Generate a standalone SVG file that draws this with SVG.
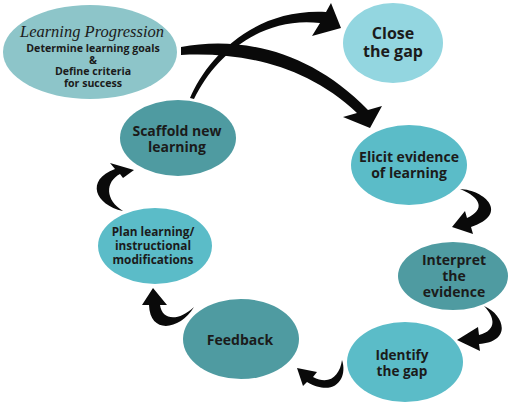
<svg xmlns="http://www.w3.org/2000/svg" width="513" height="406" viewBox="0 0 513 406">
<style>
.t{font-family:"Open Sans",Lato,"Liberation Sans",sans-serif;font-weight:bold;fill:#1b1b1b;text-anchor:middle}
.lp{font-family:"Liberation Serif","DejaVu Serif",serif;font-style:italic;font-size:16.5px;fill:#1b1b1b;text-anchor:middle}
.light{fill:#8dc5c9}.pale{fill:#93d6e0}.mid{fill:#5bbcc8}.dark{fill:#4f9ba1}
.ar{fill:#0a0a0a}
</style>
<rect width="513" height="406" fill="#ffffff"/>
<g id="connectors">
<path class="ar" d="M190,98 C205,62 250,8 326,12 L331,3 L341,28 L312,36 L320,23 C262,16 215,55 194,99 Z"/>
<path class="ar" d="M181,47 C240,36 310,50 368,110 L382,106 L370,128 L343,117 L357,113 C305,64 240,52 181,55 Z"/>
<path class="ar" d="M460,189 C485,190 510,214 471,227 L473,234 L452,227 L465,211 L467,218 C485,210 482,198 460,189 Z"/>
<path class="ar" d="M484,306 C505,315 512,342 479,344 L480,351 L457,340 L478,327 L479,335 C496,331 496,318 484,306 Z"/>
<path class="ar" d="M342,360 C348,378 335,398 307,382 L303,386 L297,368 L317,372 L313,377 C330,386 340,375 342,360 Z"/>
<path class="ar" d="M194,307 C180,330 150,335 149,305 L142,305 L153,288 L167,305 L160,305 C162,320 178,322 194,307 Z"/>
<path class="ar" d="M123,211 C95,205 85,180 115,169 L110,163 L134,170 L123,178 L120,174 C105,182 105,200 123,211 Z"/>
</g>
<g id="learning-progression">
<ellipse class="light" cx="90" cy="52" rx="87" ry="47"/>
<text class="lp" x="92" y="37">Learning Progression</text>
<g class="t" font-size="10.6">
<text x="93" y="51.5">Determine learning goals</text>
<text x="93" y="63.5">&amp;</text>
<text x="93" y="75">Define criteria</text>
<text x="93" y="86.5">for success</text>
</g>
</g>
<g id="close-gap">
<ellipse class="pale" cx="393" cy="43" rx="50" ry="40"/>
<text class="t" font-size="16" x="393" y="39">Close</text>
<text class="t" font-size="16" x="393" y="57">the gap</text>
</g>
<g id="elicit">
<ellipse class="mid" cx="409" cy="165" rx="58" ry="40"/>
<text class="t" font-size="14" x="409" y="162">Elicit evidence</text>
<text class="t" font-size="14" x="409" y="178">of learning</text>
</g>
<g id="interpret">
<ellipse class="dark" cx="453" cy="276" rx="55" ry="34"/>
<text class="t" font-size="14" x="454" y="265">Interpret</text>
<text class="t" font-size="14" x="454" y="281">the</text>
<text class="t" font-size="14" x="454" y="297">evidence</text>
</g>
<g id="identify">
<ellipse class="mid" cx="405" cy="362" rx="58" ry="40"/>
<text class="t" font-size="13.6" x="402" y="360">Identify</text>
<text class="t" font-size="13.6" x="402" y="376">the gap</text>
</g>
<g id="feedback">
<ellipse class="dark" cx="241" cy="339" rx="58" ry="40"/>
<text class="t" font-size="14" x="240" y="345">Feedback</text>
</g>
<g id="plan">
<ellipse class="mid" cx="155" cy="246" rx="57" ry="38"/>
<text class="t" font-size="11.8" x="153" y="236">Plan learning/</text>
<text class="t" font-size="11.8" x="153" y="250">instructional</text>
<text class="t" font-size="11.8" x="153" y="264">modifications</text>
</g>
<g id="scaffold">
<ellipse class="dark" cx="178" cy="138" rx="58" ry="38"/>
<text class="t" font-size="14" x="177" y="136">Scaffold new</text>
<text class="t" font-size="14" x="177" y="152">learning</text>
</g>
</svg>
